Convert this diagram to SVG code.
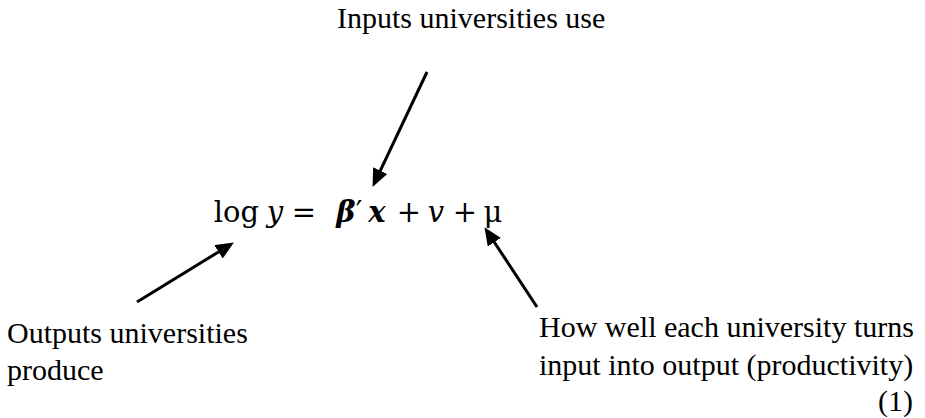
<svg xmlns="http://www.w3.org/2000/svg" width="925" height="418" viewBox="0 0 925 418">
<style>
.lbl{font-family:"Liberation Serif","Times New Roman",serif;font-size:30px;fill:#000}
.eq{font-family:"DejaVu Serif","Liberation Serif",serif;font-size:29px;fill:#000}
.it{font-style:italic}
.bi{font-style:italic;font-weight:bold}
.conn{stroke:#000;stroke-width:3;fill:none;marker-end:url(#ah)}
</style>
<defs>
<marker id="ah" markerUnits="userSpaceOnUse" markerWidth="18" markerHeight="16" refX="8" refY="7" orient="auto" viewBox="0 0 16 14">
<path d="M0,0 L16,7 L0,14 z" fill="#000"/>
</marker>
</defs>
<rect width="925" height="418" fill="#fff"/>
<g id="equation" class="eq">
<text x="259" y="222" text-anchor="end">log</text>
<text x="275" y="222" text-anchor="middle" class="it">y</text>
<text x="304" y="222" text-anchor="middle">=</text>
<text x="346" y="222" text-anchor="middle" class="bi">β</text>
<text x="359" y="222" text-anchor="middle">′</text>
<text x="377" y="222" text-anchor="middle" class="bi">x</text>
<text x="409" y="222" text-anchor="middle">+</text>
<text x="436" y="222" text-anchor="middle" class="it">v</text>
<text x="465" y="222" text-anchor="middle">+</text>
<text x="493" y="222" text-anchor="middle">μ</text>
</g>
<g id="inputs"><text class="lbl" x="337" y="28">Inputs universities use</text></g>
<g id="outputs"><text class="lbl" x="7" y="343">Outputs universities</text><text class="lbl" x="7" y="380">produce</text></g>
<g id="productivity"><text class="lbl" x="539" y="337">How well each university turns</text><text class="lbl" x="539" y="375">input into output (productivity)</text></g>
<g id="eqnum"><text class="lbl" x="913" y="411" text-anchor="end">(1)</text></g>
<g id="connectors">
<line class="conn" x1="427" y1="72" x2="376.4" y2="178.8"/>
<line class="conn" x1="137" y1="302" x2="226.2" y2="247.2"/>
<line class="conn" x1="537" y1="307" x2="489.4" y2="234.7"/>
</g>
</svg>
